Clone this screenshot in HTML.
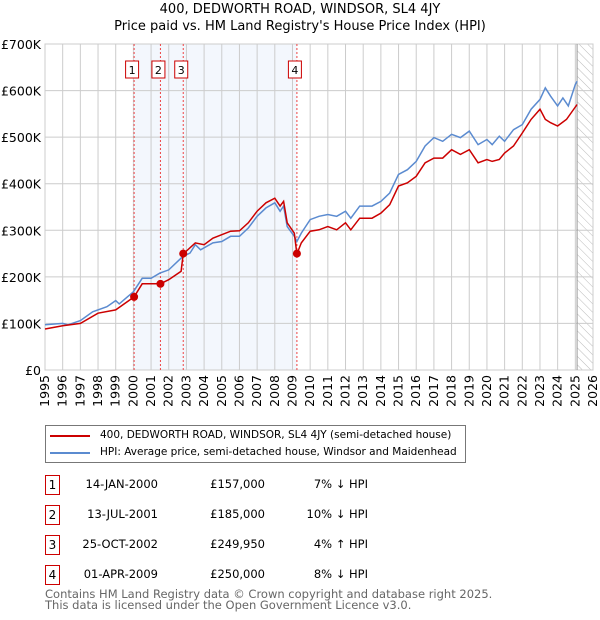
<!DOCTYPE html>
<html><head><meta charset="utf-8"><style>
body{margin:0;background:#fff;font-family:"DejaVu Sans","Liberation Sans",sans-serif;}
#wrap{position:relative;width:600px;height:620px;overflow:hidden}
.t{position:absolute;font-size:12px;color:#000;white-space:nowrap}
.box{position:absolute;border:1px solid #c00;width:13px;height:18px;font-size:12px;text-align:center;line-height:18px}
</style></head><body><div id="wrap">
<div class="t" style="left:0;width:600px;text-align:center;top:2px;font-size:13px">400, DEDWORTH ROAD, WINDSOR, SL4 4JY</div>
<div class="t" style="left:0;width:600px;text-align:center;top:19px;font-size:13px">Price paid vs. HM Land Registry's House Price Index (HPI)</div>
<svg id="svg" width="600" height="420" style="position:absolute;left:0;top:0"></svg>
<div style="position:absolute;left:45px;top:425px;width:419px;height:36px;border:1px solid #777"></div>
<div style="position:absolute;left:50px;top:435px;width:40px;height:2px;background:#c00"></div>
<div style="position:absolute;left:50px;top:452px;width:40px;height:2px;background:#5b8bd0"></div>
<div class="t" style="left:100px;top:429px;font-size:10.5px">400, DEDWORTH ROAD, WINDSOR, SL4 4JY (semi-detached house)</div>
<div class="t" style="left:100px;top:446px;font-size:10.5px">HPI: Average price, semi-detached house, Windsor and Maidenhead</div>
<div id="tbl"></div>
<div class="t" style="left:45px;top:589px;font-size:11.5px;color:#666;line-height:11px">Contains HM Land Registry data © Crown copyright and database right 2025.<br>This data is licensed under the Open Government Licence v3.0.</div>
</div>
<script>
const hpiYears=[1995,1996,1996.3,1997,1997.7,1998.5,1999,1999.2,2000,2000.5,2001,2001.5,2002,2002.8,2003.2,2003.5,2003.8,2004.5,2005,2005.5,2006,2006.5,2007,2007.5,2008,2008.3,2008.5,2008.7,2009.1,2009.25,2009.5,2010,2010.5,2011,2011.5,2012,2012.3,2012.8,2013.5,2014,2014.5,2015,2015.5,2016,2016.5,2017,2017.5,2018,2018.5,2019,2019.5,2020,2020.3,2020.7,2021,2021.5,2022,2022.5,2023,2023.3,2023.6,2024,2024.3,2024.6,2025,2025.1];
const hpiValues=[97,100,97,106,125,136,149,142,168,197,197,208,215,244,251,269,258,273,276,287,287,305,330,348,359,341,352,308,287,276,294,323,330,334,330,341,326,352,352,362,380,420,430,448,481,499,491,506,499,513,484,495,484,502,491,516,527,560,581,606,588,567,584,567,613,620];
const ppYears=[1995,1996,1997,1998,1999,2000.04,2000.5,2001.53,2002,2002.7,2002.82,2003.5,2004,2004.5,2005.5,2006,2006.5,2007,2007.5,2008,2008.3,2008.5,2008.7,2009.1,2009.25,2009.5,2010,2010.5,2011,2011.5,2012,2012.3,2012.8,2013.5,2014,2014.5,2015,2015.5,2016,2016.5,2017,2017.5,2018,2018.5,2019,2019.5,2020,2020.3,2020.7,2021,2021.5,2022,2022.5,2023,2023.3,2023.6,2024,2024.5,2025.1];
const ppValues=[88,95,100,122,129,157,185,185,194,212,249,273,269,283,298,299,316,341,359,369,352,362,316,294,249,273,298,301,308,301,316,301,326,326,337,355,395,402,416,445,455,455,473,463,473,445,452,448,452,466,481,509,538,560,538,531,524,538,570];
const saleYears=[2000.04,2001.53,2002.82,2009.25];
const saleValues=[157,185,249.95,250];
const saleLabels=["1","2","3","4"];
const yTicks=[0,100,200,300,400,500,600,700];
const yTickLabels=["£0","£100K","£200K","£300K","£400K","£500K","£600K","£700K"];
const rows=[["1","14-JAN-2000","£157,000","7% ↓ HPI"],["2","13-JUL-2001","£185,000","10% ↓ HPI"],["3","25-OCT-2002","£249,950","4% ↑ HPI"],["4","01-APR-2009","£250,000","8% ↓ HPI"]];
const X0=45,X1=593,Y0=370,Y1=44;
const x=v=>X0+(v-1995)/31*(X1-X0);
const y=v=>Y0-v/700*(Y0-Y1);
const NS="http://www.w3.org/2000/svg",svg=document.getElementById('svg');
function mk(t,a,p){const e=document.createElementNS(NS,t);for(const k in a)e.setAttribute(k,a[k]);(p||svg).appendChild(e);return e;}
let e;
e=mk('defs',{});e.innerHTML='<pattern id="h" width="6" height="6" patternUnits="userSpaceOnUse" patternTransform="rotate(-45)"><line x1="0" y1="0" x2="0" y2="6" stroke="#bbb" stroke-width="1"/></pattern>';
e=mk('rect',{x:x(saleYears[0]),y:Y1,width:x(saleYears[3])-x(saleYears[0]),height:Y0-Y1,fill:'#eef3fc',opacity:0.7});


e=mk('rect',{x:x(2025.1),y:Y1,width:X1-x(2025.1),height:Y0-Y1,fill:'url(#h)'});


for(let yr=1995;yr<=2026;yr++){
 e=mk('line',{x1:x(yr),x2:x(yr),y1:Y1,y2:Y0,stroke:'#ccc','stroke-width':1});
 
 
 e=mk('text',{x:0,y:0,transform:`translate(${x(yr)+4},${Y0+5}) rotate(-90)`,'text-anchor':'end','font-size':12.5,'font-family':'DejaVu Sans,sans-serif'});e.textContent=yr;
 
 
}
yTicks.forEach((v,i)=>{
 e=mk('line',{x1:X0,x2:X1,y1:y(v),y2:y(v),stroke:'#ccc','stroke-width':1});
 
 
 e=mk('text',{x:X0-4,y:y(v)+5,'text-anchor':'end','font-size':12.5,'font-family':'DejaVu Sans,sans-serif'});e.textContent=yTickLabels[i];
 
 
});
e=mk('rect',{x:X0,y:Y1,width:X1-X0,height:Y0-Y1,fill:'none',stroke:'#ccc'});


e=mk('line',{x1:x(2025.1),x2:x(2025.1),y1:Y1,y2:Y0,stroke:'#999','stroke-width':1});


saleYears.forEach((s,i)=>{
 e=mk('line',{x1:x(s),x2:x(s),y1:Y1,y2:Y0,stroke:'#e44','stroke-width':1,'stroke-dasharray':'2,2'});
 
 
 const bx=x(s)-8.5;
 e=mk('rect',{x:bx,y:61,width:13,height:17,fill:'#fff',stroke:'#c00'});
 
 
 e=mk('text',{x:bx+6.5,y:74,'text-anchor':'middle','font-size':11,'font-family':'DejaVu Sans,sans-serif'});e.textContent=saleLabels[i];
 
 
});
const pts=(xs,vs)=>xs.map((a,i)=>x(a).toFixed(1)+','+y(vs[i]).toFixed(1)).join(' ');
e=mk('polyline',{points:pts(hpiYears,hpiValues),fill:'none',stroke:'#5b8bd0','stroke-width':1.5});


e=mk('polyline',{points:pts(ppYears,ppValues),fill:'none',stroke:'#c00','stroke-width':1.5});


saleYears.forEach((s,i)=>{
 e=mk('circle',{cx:x(s),cy:y(saleValues[i]),r:4,fill:'#c00'});
 
 
});
const tbl=document.getElementById('tbl');
rows.forEach((r,i)=>{
 const top=475+i*30;
 const b=document.createElement('div');b.className='box';b.style.left='45px';b.style.top=(top)+'px';b.textContent=r[0];
 
 
 tbl.appendChild(b);
 [[158,r[1]],[265,r[2]],[368,r[3]]].forEach(([rx,t],j)=>{
  const d=document.createElement('div');d.className='t';d.style.left=(rx-130)+'px';d.style.width='130px';d.style.textAlign='right';d.style.top=(top+2)+'px';d.style.fontSize='11.5px';d.textContent=t;
  
  
  tbl.appendChild(d);
 });
});
</script></body></html>
